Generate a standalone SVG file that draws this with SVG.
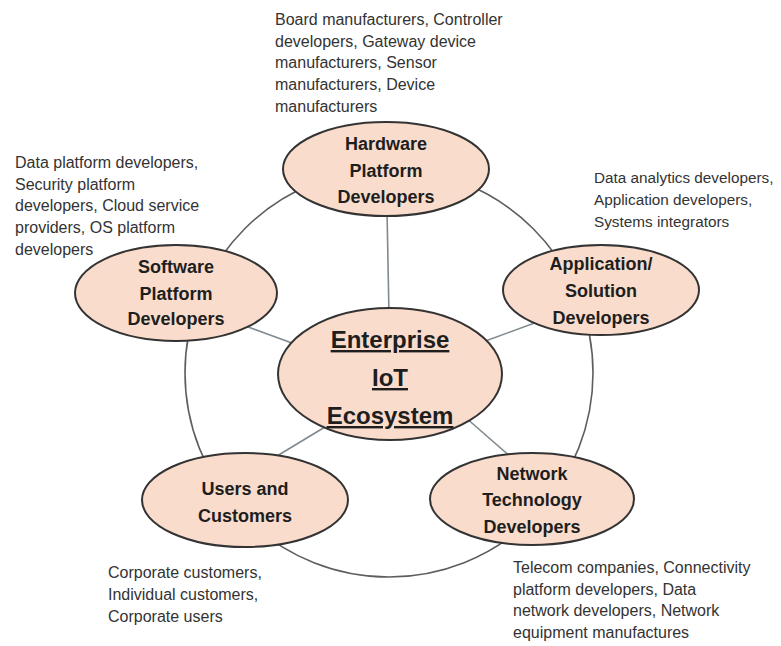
<svg xmlns="http://www.w3.org/2000/svg" width="781" height="646" viewBox="0 0 781 646">
<style>
.bg{fill:#ffffff}
.ring{fill:none;stroke:#5e5e5e;stroke-width:1.6}
.conn{stroke:#7f8a90;stroke-width:1.6;fill:none}
.node{fill:#f9dccb;stroke:#333333;stroke-width:2}
.lbl{font-family:"Liberation Sans",Arial,sans-serif;font-weight:bold;font-size:18px;fill:#1e1e1e;text-anchor:middle}
.main{font-family:"Liberation Sans",Arial,sans-serif;font-weight:bold;font-size:24px;fill:#1e1e1e;text-anchor:middle;text-decoration:underline}
.desc{font-family:"Liberation Sans",Arial,sans-serif;font-size:16px;fill:#333333}
.sm{font-size:15.3px}
</style>
<rect class="bg" x="0" y="0" width="781" height="646"/>
<g id="connectors">
<circle class="ring" cx="389" cy="373" r="204"/>
<line class="conn" x1="387" y1="210" x2="389" y2="315"/>
<line class="conn" x1="240" y1="324" x2="300" y2="346"/>
<line class="conn" x1="480" y1="343" x2="540" y2="321"/>
<line class="conn" x1="330" y1="424" x2="272" y2="459"/>
<line class="conn" x1="465" y1="417" x2="512" y2="458"/>
</g>
<g id="hardware">
<ellipse class="node" cx="386" cy="169" rx="103" ry="47"/>
<text class="lbl" x="386" y="150">Hardware</text>
<text class="lbl" x="386" y="177">Platform</text>
<text class="lbl" x="386" y="203">Developers</text>
</g>
<g id="software">
<ellipse class="node" cx="176" cy="293" rx="101" ry="48"/>
<text class="lbl" x="176" y="273">Software</text>
<text class="lbl" x="176" y="300">Platform</text>
<text class="lbl" x="176" y="325">Developers</text>
</g>
<g id="application">
<ellipse class="node" cx="601" cy="290" rx="98" ry="45"/>
<text class="lbl" x="601" y="270">Application/</text>
<text class="lbl" x="601" y="297">Solution</text>
<text class="lbl" x="601" y="324">Developers</text>
</g>
<g id="center">
<ellipse class="node" cx="390" cy="374" rx="112" ry="66"/>
<text class="main" x="390" y="348">Enterprise</text>
<text class="main" x="390" y="386">IoT</text>
<text class="main" x="390" y="424">Ecosystem</text>
</g>
<g id="users">
<ellipse class="node" cx="245" cy="500" rx="103" ry="47"/>
<text class="lbl" x="245" y="495">Users and</text>
<text class="lbl" x="245" y="522">Customers</text>
</g>
<g id="network">
<ellipse class="node" cx="532" cy="499" rx="102" ry="46"/>
<text class="lbl" x="532" y="480">Network</text>
<text class="lbl" x="532" y="506">Technology</text>
<text class="lbl" x="532" y="533">Developers</text>
</g>
<g id="desc-hardware">
<text class="desc" x="275" y="25">Board manufacturers, Controller</text>
<text class="desc" x="275" y="47">developers, Gateway device</text>
<text class="desc" x="275" y="68">manufacturers, Sensor</text>
<text class="desc" x="275" y="90">manufacturers, Device</text>
<text class="desc" x="275" y="112">manufacturers</text>
</g>
<g id="desc-software">
<text class="desc" x="15" y="168">Data platform developers,</text>
<text class="desc" x="15" y="190">Security platform</text>
<text class="desc" x="15" y="211">developers, Cloud service</text>
<text class="desc" x="15" y="233">providers, OS platform</text>
<text class="desc" x="15" y="255">developers</text>
</g>
<g id="desc-application">
<text class="desc sm" x="594" y="183">Data analytics developers,</text>
<text class="desc sm" x="594" y="205">Application developers,</text>
<text class="desc sm" x="594" y="227">Systems integrators</text>
</g>
<g id="desc-users">
<text class="desc" x="108" y="578">Corporate customers,</text>
<text class="desc" x="108" y="600">Individual customers,</text>
<text class="desc" x="108" y="622">Corporate users</text>
</g>
<g id="desc-network">
<text class="desc" x="513" y="573">Telecom companies, Connectivity</text>
<text class="desc" x="513" y="595">platform developers, Data</text>
<text class="desc" x="513" y="616">network developers, Network</text>
<text class="desc" x="513" y="638">equipment manufactures</text>
</g>
</svg>
